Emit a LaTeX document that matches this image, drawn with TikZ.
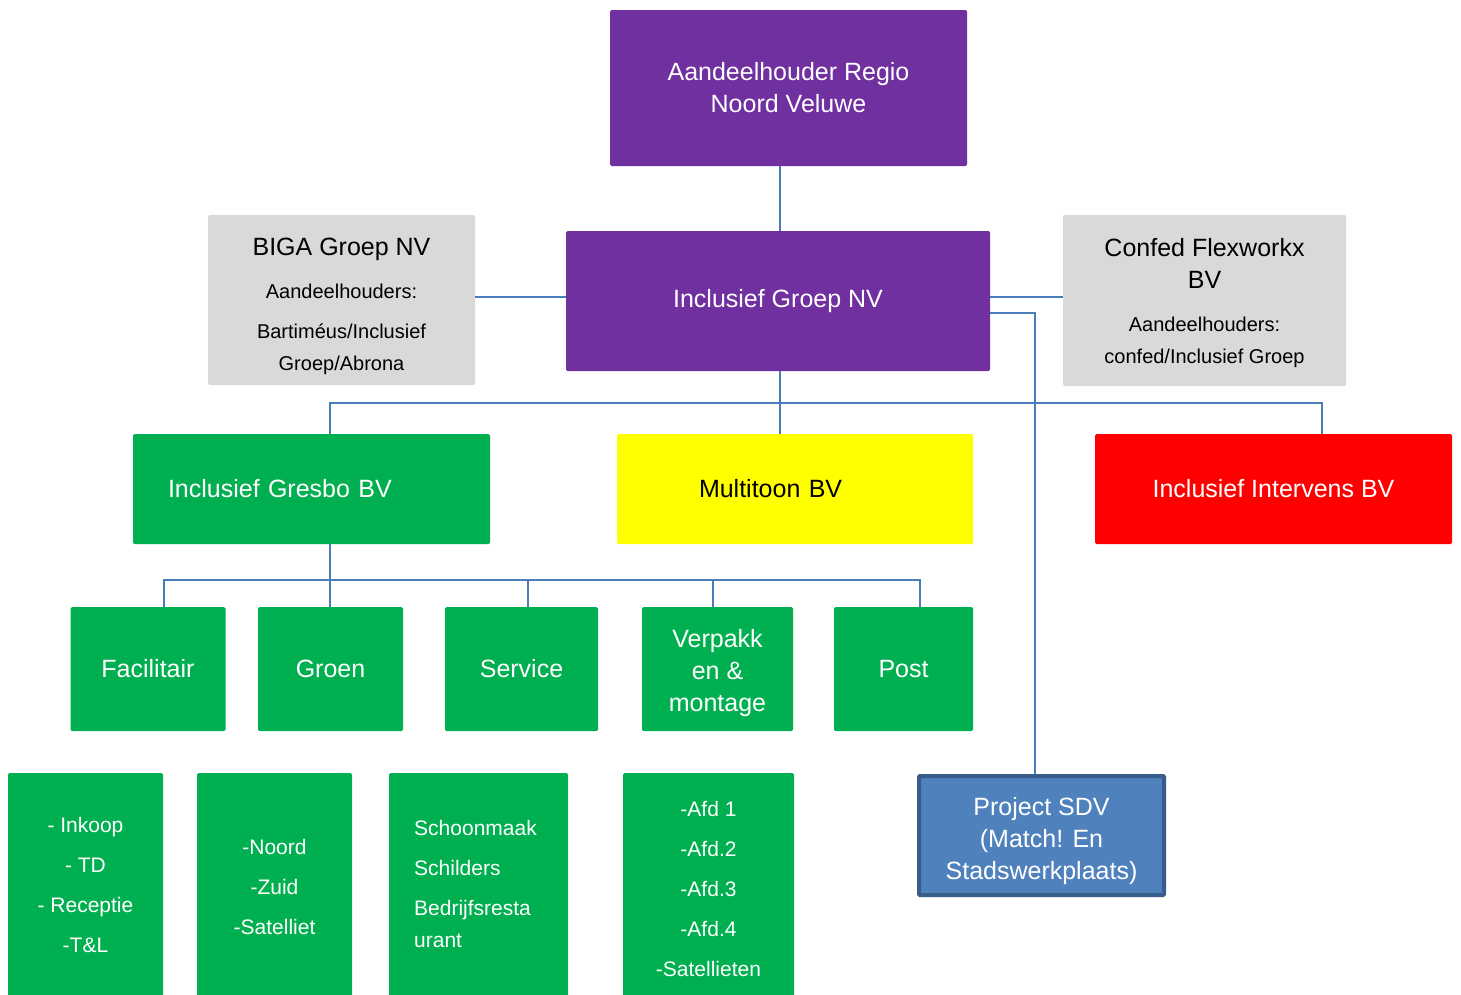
\documentclass[tikz,border=0pt]{standalone}
\usepackage{fontspec}
\setmainfont{Liberation Sans}
\definecolor{purp}{HTML}{7030A0}
\definecolor{grn}{HTML}{00B050}
\definecolor{gry}{HTML}{D9D9D9}
\definecolor{lin}{HTML}{4A7EBB}
\definecolor{sdvfill}{HTML}{4F81BD}
\definecolor{sdvline}{HTML}{385D8A}
\definecolor{ylw}{RGB}{255,255,0}
\definecolor{rd}{RGB}{255,0,0}
\begin{document}
\begin{tikzpicture}[x=1pt,y=-1pt,
  box/.style={rectangle, rounded corners=1.5pt, inner sep=0pt, align=center},
  txt/.style={inner sep=0pt, align=center},
  big/.style={font=\fontsize{25}{32}\selectfont},
  small/.style={font=\fontsize{20}{32}\selectfont},
  list/.style={font=\fontsize{21}{40}\selectfont},
  pbox/.style={box, fill=purp, text=white, big},
  gybox/.style={box, fill=gry, text=black, small},
  gnbox/.style={box, fill=grn, text=white, big},
  lbox/.style={box, fill=grn, text=white, list},
  conn/.style={draw=lin, line width=2pt}]
\useasboundingbox (0,0) rectangle (1461,994);
\clip (0,0) rectangle (1461,994);

% top level
\node[pbox, minimum width=357pt, minimum height=156pt] (top) at (788.5,88) {Aandeelhouder Regio\\Noord Veluwe};
\node[pbox, minimum width=424pt, minimum height=140pt] (groep) at (778,301) {Inclusief Groep NV};
\node[gybox, minimum width=267pt, minimum height=170pt] (biga) at (341.5,300) {};
\node[txt, small, text=black] (bigatext) at ([yshift=-6pt]biga.center)
  {{\fontsize{25}{32}\selectfont BIGA Groep NV}\\[11pt]Aandeelhouders:\\[8pt]Bartiméus/Inclusief\\Groep/Abrona};
\node[gybox, minimum width=283pt, minimum height=171pt] (confed) at (1204.5,300.5) {};
\node[txt, small, text=black] (confedtext) at ([yshift=-2.5pt]confed.center)
  {{\fontsize{25}{32}\selectfont Confed Flexworkx}\\{\fontsize{25}{32}\selectfont BV}\\[11pt]Aandeelhouders:\\confed/Inclusief Groep};

% second level
\node[gnbox, minimum width=357pt, minimum height=110pt, text width=287pt, inner xsep=35pt, align=left] (gresbo) at (311.5,489) {Inclusief Gresbo BV};
\node[box, fill=ylw, text=black, big, minimum width=356pt, minimum height=110pt, text width=192pt, inner xsep=82pt, align=left] (multi) at (795,489) {Multitoon BV};
\node[box, fill=rd, text=white, big, minimum width=357pt, minimum height=110pt] (intervens) at (1273.5,489) {Inclusief Intervens BV};

% third level
\node[gnbox, minimum width=155pt, minimum height=124pt] (fac) at (148,669) {Facilitair};
\node[gnbox, minimum width=145pt, minimum height=124pt] (groen) at (330.5,669) {Groen};
\node[gnbox, minimum width=153pt, minimum height=124pt] (service) at (521.5,669) {Service};
\node[gnbox, minimum width=151pt, minimum height=124pt] (verpak) at (717.5,669) {};
\node[txt, big, text=white] (verpaktext) at ([yshift=-4pt]verpak.center) {Verpakk\\en \&\\montage};
\node[gnbox, minimum width=139pt, minimum height=124pt] (post) at (903.5,669) {Post};

% bottom lists
\node[lbox, minimum width=155pt, minimum height=227pt] (l1) at (85.5,886.5) {};
\node[txt, list, text=white] (l1text) at ([yshift=2pt]l1.center) {- Inkoop\\- TD\\- Receptie\\-T\&L};
\node[lbox, minimum width=155pt, minimum height=227pt] (l2) at (274.5,886.5) {-Noord\\-Zuid\\-Satelliet};
\node[lbox, minimum width=179pt, minimum height=227pt] (l3) at (478.5,886.5) {};
\node[txt, text=white, align=left, font=\fontsize{21}{32}\selectfont] (l3text) at ([xshift=-3pt,yshift=3pt]l3.center) {Schoonmaak\\[8pt]Schilders\\[8pt]Bedrijfsresta\\urant};
\node[lbox, minimum width=171pt, minimum height=227pt] (l4) at (708.5,886.5) {};
\node[txt, list, text=white] (l4text) at ([yshift=-2pt]l4.center) {-Afd 1\\-Afd.2\\-Afd.3\\-Afd.4\\-Satellieten};

% project
\node[box, rounded corners=1pt, fill=sdvfill, draw=sdvline, line width=4pt, minimum width=245pt, minimum height=119pt] (sdv) at (1041.5,835.5) {};
\node[txt, big, text=white] (sdvtext) at ([yshift=-6pt]sdv.center) {Project SDV\\(Match! En\\Stadswerkplaats)};

% connectors
\coordinate (bus1) at (780,403);
\coordinate (bus2) at (330,580);
\draw[conn] ([xshift=2pt]groep.north) -- ([xshift=2pt]groep.north |- top.south);
\draw[conn] ([yshift=3pt]biga.east) -- ([yshift=3pt]biga.east -| groep.west);
\draw[conn] ([yshift=3.5pt]groep.east |- confed.west) -- ([yshift=3.5pt]confed.west);
\draw[conn] ([yshift=-12pt]groep.east) -| ([xshift=-6.5pt]sdv.north);
\draw[conn] ([xshift=2pt]groep.south) -- ([xshift=2pt]groep.south |- multi.north);
\draw[conn] ([xshift=18.5pt]gresbo.north) |- (bus1) -| ([xshift=48.5pt]intervens.north);
\draw[conn] ([xshift=18.5pt]gresbo.south) -- ([xshift=18.5pt]gresbo.south |- groen.north);
\draw[conn] ([xshift=16pt]fac.north) |- (bus2) -| ([xshift=16.5pt]post.north);
\draw[conn] ([xshift=6.5pt]service.north) -- ([xshift=6.5pt]service.north |- bus2);
\draw[conn] ([xshift=-4.5pt]verpak.north) -- ([xshift=-4.5pt]verpak.north |- bus2);
\end{tikzpicture}
\end{document}
